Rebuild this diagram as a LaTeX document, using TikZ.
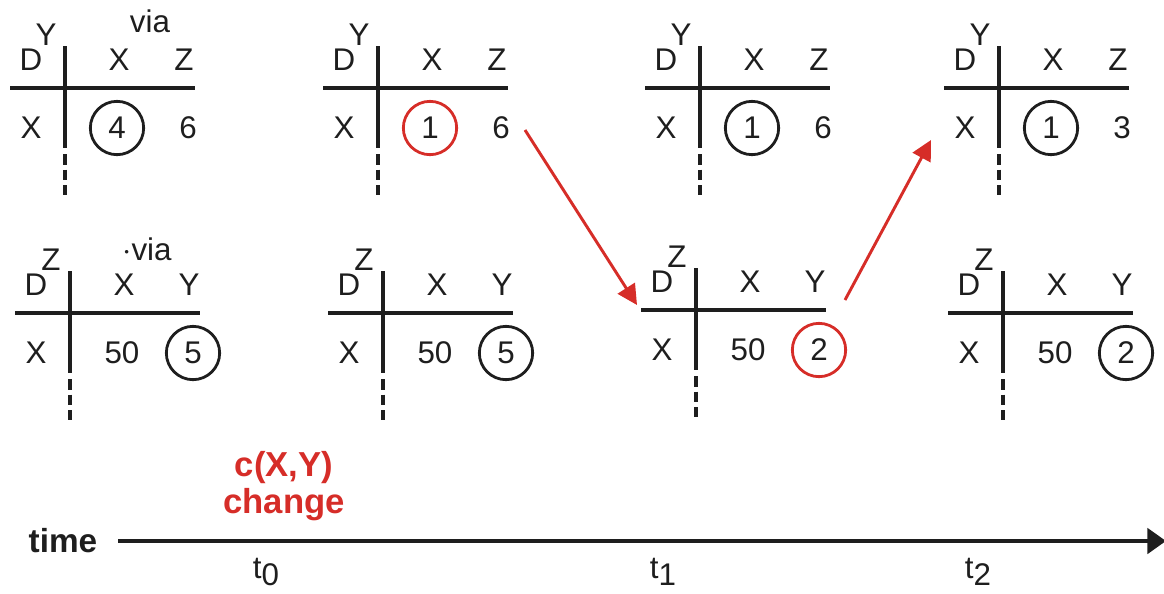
\documentclass[tikz,border=0pt]{standalone}
\usepackage{fontspec}
\setmainfont{Liberation Sans}
\usetikzlibrary{arrows.meta,calc}
\definecolor{myred}{RGB}{214,45,40}
\definecolor{myblack}{RGB}{30,30,30}
\tikzset{
  lbl/.style={inner sep=0pt, font=\fontsize{23.5}{27}\selectfont, text=myblack},
  rule/.style={line width=3pt, draw=myblack},
  plain/.style={},
  circblack/.style={circle, draw=myblack, line width=2.1pt, minimum size=40pt},
  circred/.style={circle, draw=myred, line width=2.1pt, minimum size=40pt},
  redarrow/.style={draw=myred, line width=2.2pt, -{Triangle[length=15pt,width=15pt]}},
}
% #1 name, #2 vx, #3 hy, #4 sup, #5 hdr2, #6 style1, #7 val1, #8 style2, #9 val2
\newcommand\dvtab[9]{%
  \node[lbl] (#1-D) at ({#2-34},{#3-28}) {D};
  \node[lbl] (#1-s) at ({#2-19},{#3-53}) {#4};
  \node[lbl] (#1-h1) at ({#2+54},{#3-28}) {X};
  \node[lbl] (#1-h2) at ({#2+119},{#3-28}) {#5};
  \node[lbl] (#1-r) at ({#2-34},{#3+40}) {X};
  \node[lbl,#6] (#1-v1) at ({#2+52},{#3+40}) {#7};
  \node[lbl,#8] (#1-v2) at ({#2+123},{#3+40}) {#9};
  \coordinate (#1-hl) at ({#2-55},#3);
  \coordinate (#1-hr) at ({#2+130},#3);
  \coordinate (#1-vt) at (#2,{#3-42});
  \coordinate (#1-vm) at (#2,{#3+60});
  \coordinate (#1-vb) at (#2,{#3+107});
  \draw[rule] (#1-hl) -- (#1-hr);
  \draw[rule] (#1-vt) -- (#1-vm);
  \draw[rule, dash pattern=on 8pt off 3.8pt] ($(#1-vm)+(0,6)$) -- (#1-vb);
}
\begin{document}
\begin{tikzpicture}[x=0.75pt,y=-0.75pt]
\useasboundingbox (0,0) rectangle (1164,593);
% top row
\dvtab{a}{65}{88}{Y}{Z}{circblack}{4}{plain}{6}
\dvtab{b}{378}{88}{Y}{Z}{circred}{1}{plain}{6}
\dvtab{c}{700}{88}{Y}{Z}{circblack}{1}{plain}{6}
\dvtab{d}{999}{88}{Y}{Z}{circblack}{1}{plain}{3}
% bottom row
\dvtab{e}{70}{313}{Z}{Y}{plain}{50}{circblack}{5}
\dvtab{f}{383}{313}{Z}{Y}{plain}{50}{circblack}{5}
\dvtab{g}{696}{310}{Z}{Y}{plain}{50}{circred}{2}
\dvtab{h}{1003}{313}{Z}{Y}{plain}{50}{circblack}{2}
% via labels
\node[lbl] (via1) at (150,21) {via};
\node[lbl] (via2) at (147,249) {$\cdot$via};
% red arrows
\coordinate (p1) at (525,130);
\coordinate (p2) at (637,305);
\coordinate (p3) at (845,300);
\coordinate (p4) at (931,140);
\draw[redarrow] (p1) -- (p2);
\draw[redarrow] (p3) -- (p4);
% change label
\node[lbl, text=myred, font=\bfseries\fontsize{26}{30}\selectfont, align=center] (chg) at (284,486) {c(X,Y)\\[-2pt]change};
% time axis
\node[lbl, font=\bfseries\fontsize{25}{30}\selectfont] (time) at (63,541) {time};
\coordinate (tstart) at (118,541);
\coordinate (tend) at (1166,541);
\draw[line width=3pt, draw=myblack, -{Triangle[length=14pt,width=19pt]}] (tstart) -- (tend);
\node[lbl] (t0) at (266,572) {t\raisebox{-0.4ex}{0}};
\node[lbl] (t1) at (663,572) {t\raisebox{-0.4ex}{1}};
\node[lbl] (t2) at (978,572) {t\raisebox{-0.4ex}{2}};
\end{tikzpicture}
\end{document}
